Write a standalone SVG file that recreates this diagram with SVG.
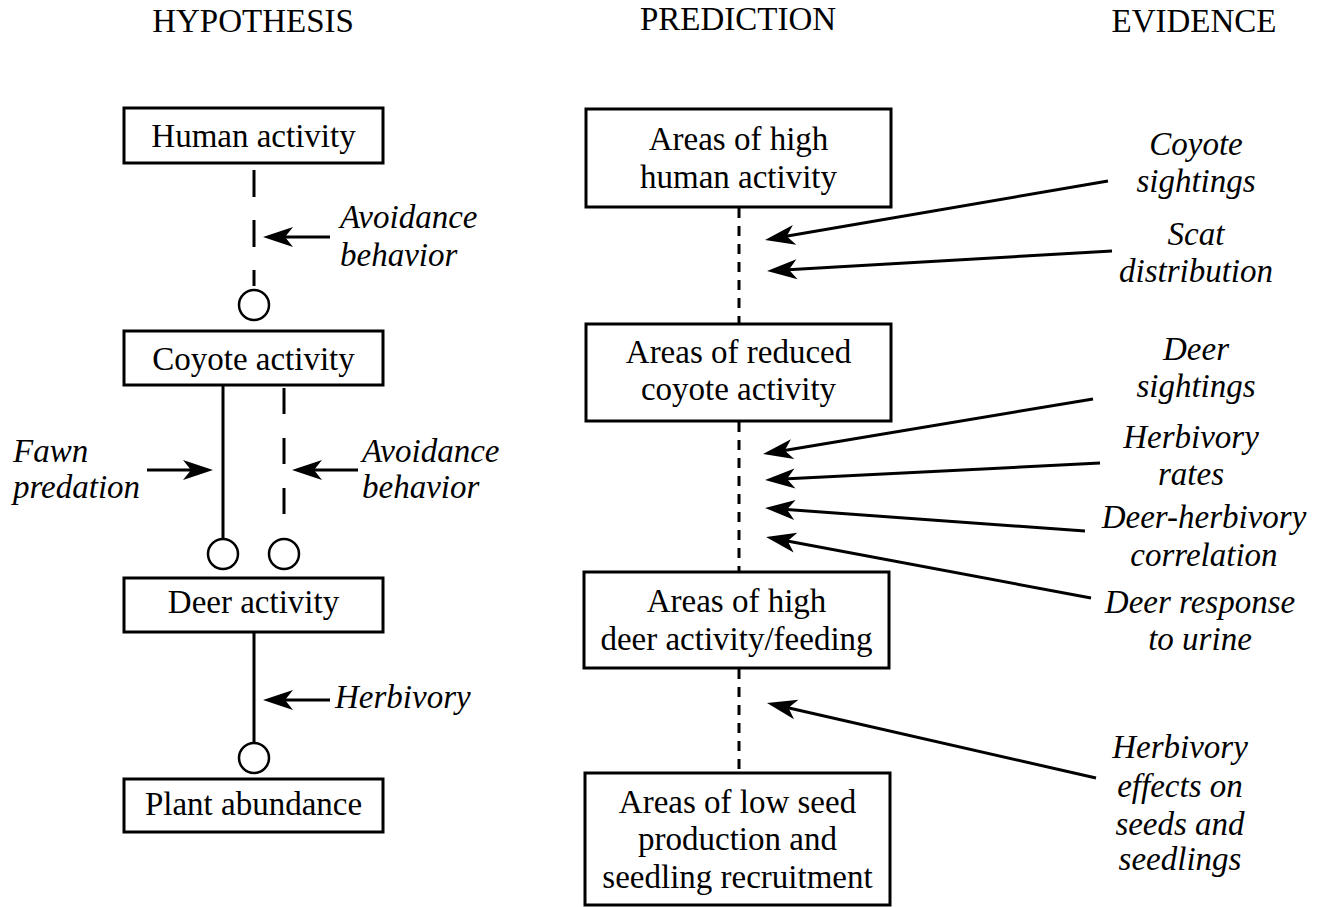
<svg xmlns="http://www.w3.org/2000/svg" width="1323" height="907" viewBox="0 0 1323 907">
<style>
.box{fill:#fff;stroke:#000;stroke-width:3}
.t{font-family:"Liberation Serif","Times New Roman",serif;font-size:33px;fill:#000;text-anchor:middle}
.h{font-family:"Liberation Serif","Times New Roman",serif;font-size:33px;fill:#000;text-anchor:middle}
.i{font-family:"Liberation Serif","Times New Roman",serif;font-size:33px;font-style:italic;fill:#000}
.im{font-family:"Liberation Serif","Times New Roman",serif;font-size:33px;font-style:italic;fill:#000;text-anchor:middle}
.ln{stroke:#000;stroke-width:3;fill:none}
.dl{stroke:#000;stroke-width:3;fill:none}
.dm{stroke:#000;stroke-width:3;fill:none;stroke-dasharray:10 8}
.ar{stroke:#000;stroke-width:3;fill:none;marker-end:url(#ah)}
.c{fill:#fff;stroke:#000;stroke-width:2.5}
</style>
<defs>
<marker id="ah" markerUnits="userSpaceOnUse" viewBox="-24 -12 34 24" markerWidth="34" markerHeight="24" refX="0" refY="0" orient="auto">
<path d="M8,0 L-22,-10 L-14,0 L-22,10 Z" fill="#000"/>
</marker>
</defs>

<g id="headers">
<text class="h" x="253" y="32">HYPOTHESIS</text>
<text class="h" x="738" y="30">PREDICTION</text>
<text class="h" x="1194" y="32">EVIDENCE</text>
</g>

<g id="connectors">
<line class="dl" x1="254" y1="170" x2="254" y2="286" stroke-dasharray="27 23"/>
<circle class="c" cx="254" cy="305" r="15"/>
<line class="ln" x1="223" y1="385" x2="223" y2="539"/>
<circle class="c" cx="223" cy="554" r="15"/>
<line class="dl" x1="284" y1="388" x2="284" y2="515" stroke-dasharray="26 24"/>
<circle class="c" cx="284" cy="554" r="15"/>
<line class="ln" x1="254" y1="632" x2="254" y2="743"/>
<circle class="c" cx="254" cy="758" r="15"/>
<line class="ar" x1="330" y1="237" x2="271" y2="237"/>
<line class="ar" x1="147" y1="470" x2="205" y2="470"/>
<line class="ar" x1="358" y1="470" x2="300" y2="470"/>
<line class="ar" x1="330" y1="700" x2="271" y2="700"/>
<line class="dm" x1="739" y1="208" x2="739" y2="324"/>
<line class="dm" x1="739" y1="422" x2="739" y2="572"/>
<line class="dm" x1="739" y1="669" x2="739" y2="773"/>
<line class="ar" x1="1108" y1="181" x2="772.9" y2="238.6"/>
<line class="ar" x1="1112" y1="251" x2="775" y2="270.5"/>
<line class="ar" x1="1093" y1="399" x2="770.9" y2="452.7"/>
<line class="ar" x1="1100" y1="463" x2="773" y2="479.6"/>
<line class="ar" x1="1085" y1="531" x2="773" y2="508.5"/>
<line class="ar" x1="1091" y1="598" x2="773.9" y2="538.5"/>
<line class="ar" x1="1096" y1="778" x2="774.8" y2="704.7"/>
</g>

<g id="human-activity">
<rect class="box" x="124" y="108" width="259" height="55"/>
<text class="t" x="253.5" y="147">Human activity</text>
</g>
<g id="coyote-activity">
<rect class="box" x="124" y="331" width="259" height="54"/>
<text class="t" x="253.5" y="370">Coyote activity</text>
</g>
<g id="deer-activity">
<rect class="box" x="124" y="578" width="259" height="54"/>
<text class="t" x="253.5" y="613">Deer activity</text>
</g>
<g id="plant-abundance">
<rect class="box" x="124" y="779" width="259" height="53"/>
<text class="t" x="253.5" y="815">Plant abundance</text>
</g>

<g id="hyp-labels">
<text class="i" x="340" y="228">Avoidance</text>
<text class="i" x="340" y="266">behavior</text>
<text class="i" x="13" y="462">Fawn</text>
<text class="i" x="13" y="498">predation</text>
<text class="i" x="362" y="462">Avoidance</text>
<text class="i" x="362" y="498">behavior</text>
<text class="i" x="335" y="708">Herbivory</text>
</g>

<g id="pred-human">
<rect class="box" x="586" y="109" width="305" height="98"/>
<text class="t" x="738.5" y="150">Areas of high</text>
<text class="t" x="738.5" y="188">human activity</text>
</g>
<g id="pred-coyote">
<rect class="box" x="586" y="324" width="305" height="97"/>
<text class="t" x="738.5" y="363">Areas of reduced</text>
<text class="t" x="738.5" y="400">coyote activity</text>
</g>
<g id="pred-deer">
<rect class="box" x="584" y="572" width="305" height="96"/>
<text class="t" x="736.5" y="612">Areas of high</text>
<text class="t" x="736.5" y="650">deer activity/feeding</text>
</g>
<g id="pred-seed">
<rect class="box" x="585" y="773" width="305" height="132"/>
<text class="t" x="737.5" y="813">Areas of low seed</text>
<text class="t" x="737.5" y="850">production and</text>
<text class="t" x="737.5" y="888">seedling recruitment</text>
</g>

<g id="evidence">
<text class="im" x="1196" y="155">Coyote</text>
<text class="im" x="1196" y="192">sightings</text>
<text class="im" x="1196" y="245">Scat</text>
<text class="im" x="1196" y="282">distribution</text>
<text class="im" x="1196" y="360">Deer</text>
<text class="im" x="1196" y="397">sightings</text>
<text class="im" x="1191" y="448">Herbivory</text>
<text class="im" x="1191" y="485">rates</text>
<text class="im" x="1204" y="528">Deer-herbivory</text>
<text class="im" x="1204" y="566">correlation</text>
<text class="im" x="1200" y="613">Deer response</text>
<text class="im" x="1200" y="650">to urine</text>
<text class="im" x="1180" y="758">Herbivory</text>
<text class="im" x="1180" y="797">effects on</text>
<text class="im" x="1180" y="835">seeds and</text>
<text class="im" x="1180" y="870">seedlings</text>
</g>
</svg>
